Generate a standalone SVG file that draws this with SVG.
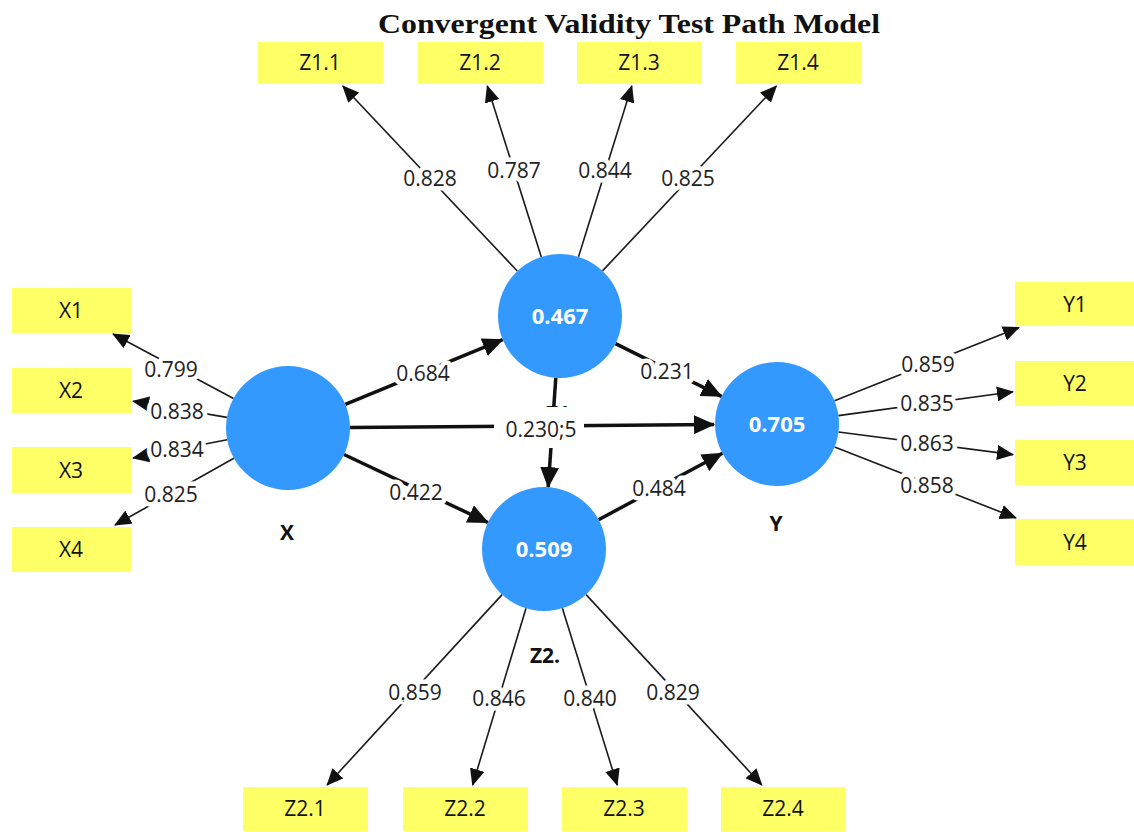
<svg xmlns="http://www.w3.org/2000/svg" width="1134" height="832" viewBox="0 0 1134 832">
<style>
.box{fill:#FFFF66}
.btxt{font-family:"Open Sans","Noto Sans",sans-serif;font-size:21px;fill:#111;text-anchor:middle}
.circ{fill:#3399FF}
.ctxt{font-family:"Open Sans","Noto Sans",sans-serif;font-size:22px;font-weight:bold;fill:#fff;text-anchor:middle}
.name{font-family:"Open Sans","Noto Sans",sans-serif;font-size:21px;font-weight:bold;fill:#111;text-anchor:middle}
.thin{stroke:#1a1a1a;stroke-width:1.6;fill:none;marker-end:url(#ah)}
.thick{stroke:#111;stroke-width:3.5;fill:none;marker-end:url(#ahb)}
.lbl{font-family:"Open Sans","Noto Sans",sans-serif;font-size:21px;fill:#222;text-anchor:middle;stroke:#fff;stroke-width:9;paint-order:stroke;stroke-linejoin:round}
.title{font-family:"Liberation Serif","Times New Roman",serif;font-size:27px;font-weight:bold;fill:#111}
</style>
<defs>
<marker id="ah" markerUnits="userSpaceOnUse" markerWidth="17" markerHeight="15" refX="16" refY="7.5" orient="auto"><path d="M0,0 L17,7.5 L0,15 z" fill="#111"/></marker>
<marker id="ahb" markerUnits="userSpaceOnUse" markerWidth="21" markerHeight="19" refX="20" refY="9.5" orient="auto"><path d="M0,0 L21,9.5 L0,19 z" fill="#111"/></marker>
<clipPath id="z1clip"><rect x="530" y="395" width="60" height="12"/></clipPath>
</defs>
<rect width="1134" height="832" fill="#fff"/>
<text class="title" x="378" y="33" textLength="502" lengthAdjust="spacingAndGlyphs">Convergent Validity Test Path Model</text>

<g id="connectors">
<line class="thin" x1="517.3" y1="271" x2="342.8" y2="86"/>
<line class="thin" x1="541.3" y1="256.9" x2="487.3" y2="86"/>
<line class="thin" x1="578.5" y1="256.8" x2="631.8" y2="86"/>
<line class="thin" x1="602.5" y1="270.9" x2="776.4" y2="86"/>
<line class="thin" x1="233.5" y1="398.5" x2="113" y2="334"/>
<line class="thin" x1="226.9" y1="417.4" x2="133" y2="401.2"/>
<line class="thin" x1="227.1" y1="439.8" x2="133" y2="458"/>
<line class="thin" x1="233.9" y1="458.3" x2="115" y2="525"/>
<line class="thin" x1="834.5" y1="400.8" x2="1019" y2="327.5"/>
<line class="thin" x1="838.4" y1="415.6" x2="1013" y2="391.8"/>
<line class="thin" x1="838.5" y1="432" x2="1013" y2="454.6"/>
<line class="thin" x1="834.6" y1="446.9" x2="1016" y2="518"/>
<line class="thin" x1="502.1" y1="594.6" x2="327.1" y2="785"/>
<line class="thin" x1="526" y1="608.3" x2="472.6" y2="785"/>
<line class="thin" x1="562.4" y1="608.2" x2="617.2" y2="785"/>
<line class="thin" x1="586.1" y1="594.6" x2="761.8" y2="785"/>
<line class="thick" x1="345.3" y1="404.4" x2="502.7" y2="339.6"/>
<line class="thick" x1="350" y1="427.5" x2="714" y2="424.5"/>
<line class="thick" x1="344" y1="454.5" x2="488" y2="522.5"/>
<line class="thick" x1="615.5" y1="343.6" x2="721.5" y2="396.4"/>
<line class="thick" x1="598.6" y1="519.7" x2="722.4" y2="453.3"/>
<line class="thick" x1="555.8" y1="377.9" x2="548.2" y2="487.1"/>
<text class="lbl" x="430" y="186">0.828</text>
<text class="lbl" x="514" y="178">0.787</text>
<text class="lbl" x="605" y="178">0.844</text>
<text class="lbl" x="688" y="186">0.825</text>
<text class="lbl" x="171" y="377">0.799</text>
<text class="lbl" x="177" y="419">0.838</text>
<text class="lbl" x="177" y="457">0.834</text>
<text class="lbl" x="171" y="502">0.825</text>
<text class="lbl" x="928" y="372">0.859</text>
<text class="lbl" x="927" y="411">0.835</text>
<text class="lbl" x="927" y="451">0.863</text>
<text class="lbl" x="927" y="493">0.858</text>
<text class="lbl" x="415" y="700">0.859</text>
<text class="lbl" x="499" y="706">0.846</text>
<text class="lbl" x="590" y="706">0.840</text>
<text class="lbl" x="673" y="700">0.829</text>
<text class="lbl" x="423" y="381">0.684</text>
<text class="lbl" x="416" y="500">0.422</text>
<text class="lbl" x="667" y="379">0.231</text>
<text class="lbl" x="659" y="496">0.484</text>
</g>

<g id="node-Z1">
<circle class="circ" cx="560" cy="316" r="62"/>
<text class="ctxt" x="560" y="324">0.467</text>
<text class="name" x="558" y="421" clip-path="url(#z1clip)">Z1</text>
<rect x="494" y="407" width="90" height="41" fill="#fff"/>
<text class="lbl" x="541" y="437" style="stroke-width:0">0.230;5</text>
</g>
<g id="node-X">
<circle class="circ" cx="288" cy="428" r="62"/>
<text class="name" x="287" y="540">X</text>
</g>
<g id="node-Y">
<circle class="circ" cx="777" cy="424" r="62"/>
<text class="ctxt" x="777" y="432">0.705</text>
<text class="name" x="776" y="531">Y</text>
</g>
<g id="node-Z2">
<circle class="circ" cx="544" cy="549" r="62"/>
<text class="ctxt" x="544" y="557">0.509</text>
<text class="name" x="545" y="663">Z2.</text>
</g>

<g id="ind-Z1.1"><rect class="box" x="258" y="42" width="125" height="42"/><text class="btxt" x="320" y="70">Z1.1</text></g>
<g id="ind-Z1.2"><rect class="box" x="418" y="42" width="125" height="42"/><text class="btxt" x="480" y="70">Z1.2</text></g>
<g id="ind-Z1.3"><rect class="box" x="577" y="42" width="125" height="42"/><text class="btxt" x="639" y="70">Z1.3</text></g>
<g id="ind-Z1.4"><rect class="box" x="736" y="42" width="125" height="42"/><text class="btxt" x="798" y="70">Z1.4</text></g>
<g id="ind-X1"><rect class="box" x="12" y="288" width="119" height="45"/><text class="btxt" x="71" y="318">X1</text></g>
<g id="ind-X2"><rect class="box" x="12" y="368" width="119" height="45"/><text class="btxt" x="71" y="398">X2</text></g>
<g id="ind-X3"><rect class="box" x="12" y="447" width="119" height="46"/><text class="btxt" x="71" y="478">X3</text></g>
<g id="ind-X4"><rect class="box" x="12" y="527" width="119" height="45"/><text class="btxt" x="71" y="557">X4</text></g>
<g id="ind-Y1"><rect class="box" x="1015" y="282" width="119" height="44"/><text class="btxt" x="1075" y="312">Y1</text></g>
<g id="ind-Y2"><rect class="box" x="1015" y="361" width="119" height="45"/><text class="btxt" x="1075" y="391">Y2</text></g>
<g id="ind-Y3"><rect class="box" x="1015" y="440" width="119" height="45"/><text class="btxt" x="1075" y="470">Y3</text></g>
<g id="ind-Y4"><rect class="box" x="1015" y="519" width="119" height="46"/><text class="btxt" x="1075" y="550">Y4</text></g>
<g id="ind-Z2.1"><rect class="box" x="243" y="787" width="125" height="44"/><text class="btxt" x="305" y="816">Z2.1</text></g>
<g id="ind-Z2.2"><rect class="box" x="403" y="787" width="125" height="44"/><text class="btxt" x="465" y="816">Z2.2</text></g>
<g id="ind-Z2.3"><rect class="box" x="562" y="787" width="125" height="44"/><text class="btxt" x="624" y="816">Z2.3</text></g>
<g id="ind-Z2.4"><rect class="box" x="721" y="787" width="125" height="44"/><text class="btxt" x="783" y="816">Z2.4</text></g>
</svg>
